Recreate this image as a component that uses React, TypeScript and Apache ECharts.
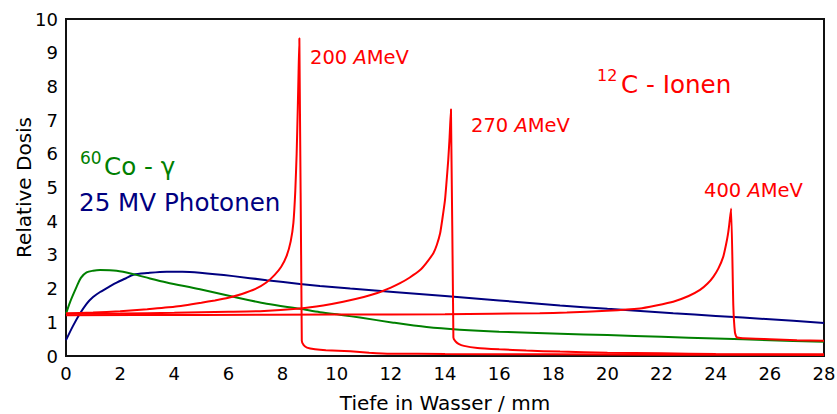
import React, { useEffect, useRef } from "react";
import * as echarts from "echarts";

// ---- data ----
const xTicks = [0, 2, 4, 6, 8, 10, 12, 14, 16, 18, 20, 22, 24, 26, 28];
const yTicks = [0, 1, 2, 3, 4, 5, 6, 7, 8, 9, 10];

const photonDepth = [0, 0.25, 0.5, 0.76, 1.0, 1.26, 1.6, 1.87, 2.2, 2.49, 3.0, 3.72, 4.3, 4.95, 6.18, 7.41, 8.64, 9.38, 10.5, 12.09, 14, 16, 18.25, 20, 22.43, 24, 26, 28];
const photonDose = [0.47, 0.88, 1.24, 1.55, 1.75, 1.9, 2.06, 2.18, 2.3, 2.41, 2.46, 2.5, 2.5, 2.47, 2.37, 2.25, 2.14, 2.08, 2.0, 1.9, 1.78, 1.65, 1.5, 1.4, 1.27, 1.19, 1.09, 0.98];

const cobaltDepth = [0, 0.15, 0.39, 0.55, 0.76, 1.0, 1.26, 1.87, 2.49, 3.1, 3.72, 4.95, 6.18, 7.41, 8.64, 9.38, 10.24, 10.86, 12.09, 13.32, 14.55, 16, 18.25, 20, 22, 24, 26, 28];
const cobaltDose = [1.25, 1.6, 2.05, 2.32, 2.48, 2.53, 2.55, 2.53, 2.43, 2.3, 2.18, 1.98, 1.76, 1.55, 1.4, 1.3, 1.21, 1.14, 0.99, 0.86, 0.78, 0.72, 0.66, 0.62, 0.57, 0.52, 0.47, 0.42];

const c200Depth = [0, 1, 2, 3, 4, 5, 5.5, 6, 6.5, 7, 7.4, 7.7, 7.95, 8.15, 8.3, 8.4, 8.47, 8.52, 8.56, 8.59, 8.62, 8.71, 8.78, 8.9, 9.2, 9.6, 10.5, 11.2, 12, 14, 18, 22, 28];
const c200Dose = [1.27, 1.29, 1.33, 1.39, 1.46, 1.58, 1.65, 1.73, 1.84, 1.99, 2.18, 2.4, 2.65, 2.97, 3.4, 3.95, 4.9, 6.0, 7.3, 8.4, 9.43, 0.45, 0.32, 0.25, 0.2, 0.17, 0.14, 0.1, 0.07, 0.06, 0.05, 0.04, 0.03];

const c270Depth = [0, 2, 4, 6, 7.17, 8.64, 9.5, 10.24, 11, 11.47, 12, 12.34, 12.7, 13.08, 13.3, 13.57, 13.7, 13.82, 13.9, 14.0, 14.05, 14.12, 14.17, 14.22, 14.31, 14.38, 14.5, 14.7, 15.2, 16, 17, 18.25, 20, 22, 24, 26, 28];
const c270Dose = [1.25, 1.26, 1.28, 1.31, 1.33, 1.41, 1.5, 1.61, 1.75, 1.86, 2.03, 2.16, 2.33, 2.55, 2.75, 3.05, 3.3, 3.64, 4.05, 4.63, 5.1, 5.82, 6.5, 7.32, 0.55, 0.44, 0.36, 0.3, 0.24, 0.2, 0.16, 0.13, 0.1, 0.08, 0.06, 0.05, 0.05];

const c400Depth = [0, 5, 10, 14, 17.5, 18.5, 19.97, 21.2, 21.8, 22.43, 23, 23.42, 23.7, 23.91, 24.1, 24.28, 24.38, 24.45, 24.5, 24.57, 24.65, 24.71, 24.77, 25.0, 26, 27, 28];
const c400Dose = [1.21, 1.22, 1.23, 1.24, 1.27, 1.29, 1.34, 1.41, 1.5, 1.61, 1.78, 1.96, 2.15, 2.35, 2.6, 2.95, 3.3, 3.6, 3.9, 4.38, 1.5, 0.7, 0.56, 0.53, 0.5, 0.47, 0.45];

const FONT = "DejaVu Sans";
const RED = "#ff0000";
const GREEN = "#008000";
const NAVY = "#000080";

const pairs = (xs: number[], ys: number[]) => xs.map((x, i) => [x, ys[i]]);

export default function App() {
  const ref = useRef<HTMLDivElement>(null);

  useEffect(() => {
    if (!ref.current) return;
    const chart = echarts.init(ref.current, undefined, { renderer: "svg" });

    const lineSeries = (name: string, xs: number[], ys: number[], color: string, smooth: number) => ({
      name,
      type: "line",
      data: pairs(xs, ys),
      showSymbol: false,
      smooth,
      lineStyle: { color, width: 2 },
      itemStyle: { color },
      z: 3,
    });

    const ameV = (label: string, x: number, y: number) => ({
      type: "text",
      x,
      y,
      style: {
        text: `{n|${label} }{i|A}{n|MeV}`,
        verticalAlign: "middle",
        align: "left",
        fill: RED,
        rich: {
          n: { fontFamily: FONT, fontSize: 19.5, color: RED },
          i: { fontFamily: FONT, fontSize: 19.5, fontStyle: "italic", color: RED },
        },
      },
      z: 10,
    });

    const txt = (text: string, x: number, y: number, size: number, color: string) => ({
      type: "text",
      x,
      y,
      style: {
        text,
        fontFamily: FONT,
        fontSize: size,
        fill: color,
        verticalAlign: "middle",
        align: "left",
      },
      z: 10,
    });

    chart.setOption({
      animation: false,
      backgroundColor: "#fff",
      textStyle: { fontFamily: FONT },
      grid: {
        left: 66,
        right: 13,
        top: 19,
        bottom: 58,
        outerBoundsMode: "none",
        containLabel: false,
        show: true,
        borderColor: "#111",
        borderWidth: 2,
        backgroundColor: "transparent",
      },
      xAxis: {
        type: "value",
        min: 0,
        max: 28,
        interval: 2,
        name: "Tiefe in Wasser / mm",
        nameLocation: "middle",
        nameGap: 37,
        nameMoveOverlap: false,
        nameTextStyle: { fontFamily: FONT, fontSize: 20, color: "#000" },
        axisLine: { show: false },
        axisTick: { show: false },
        splitLine: { show: false },
        axisLabel: {
          fontFamily: FONT,
          fontSize: 18,
          color: "#000",
          margin: 8,
          formatter: (v: number) => (xTicks.includes(v) ? String(v) : ""),
        },
      },
      yAxis: {
        type: "value",
        min: 0,
        max: 10,
        interval: 1,
        name: "Relative Dosis",
        nameLocation: "middle",
        nameRotate: 90,
        nameGap: 32,
        nameMoveOverlap: false,
        nameTextStyle: { fontFamily: FONT, fontSize: 20, color: "#000" },
        axisLine: { show: false },
        axisTick: { show: false },
        splitLine: { show: false },
        axisLabel: {
          fontFamily: FONT,
          fontSize: 18,
          color: "#000",
          margin: 8,
          formatter: (v: number) => (yTicks.includes(v) ? String(v) : ""),
        },
      },
      series: [
        lineSeries("25 MV Photonen", photonDepth, photonDose, NAVY, 0.3),
        lineSeries("60Co - γ", cobaltDepth, cobaltDose, GREEN, 0.3),
        lineSeries("400 AMeV", c400Depth, c400Dose, RED, 0.15),
        lineSeries("270 AMeV", c270Depth, c270Dose, RED, 0.15),
        lineSeries("200 AMeV", c200Depth, c200Dose, RED, 0.15),
      ],
      graphic: [
        ameV("200", 310, 57),
        ameV("270", 471, 125),
        ameV("400", 704, 190),
        txt("12", 597, 75, 16, RED),
        txt("C - Ionen", 621, 84, 24.6, RED),
        txt("60", 80, 158, 17, GREEN),
        txt("Co - γ", 104, 166, 24.6, GREEN),
        txt("25 MV Photonen", 79, 202, 24.6, NAVY),
      ],
    });

    return () => chart.dispose();
  }, []);

  return (
    <div
      ref={ref}
      style={{ position: "absolute", left: 0, top: 0, width: 837, height: 414, background: "#fff" }}
    />
  );
}
